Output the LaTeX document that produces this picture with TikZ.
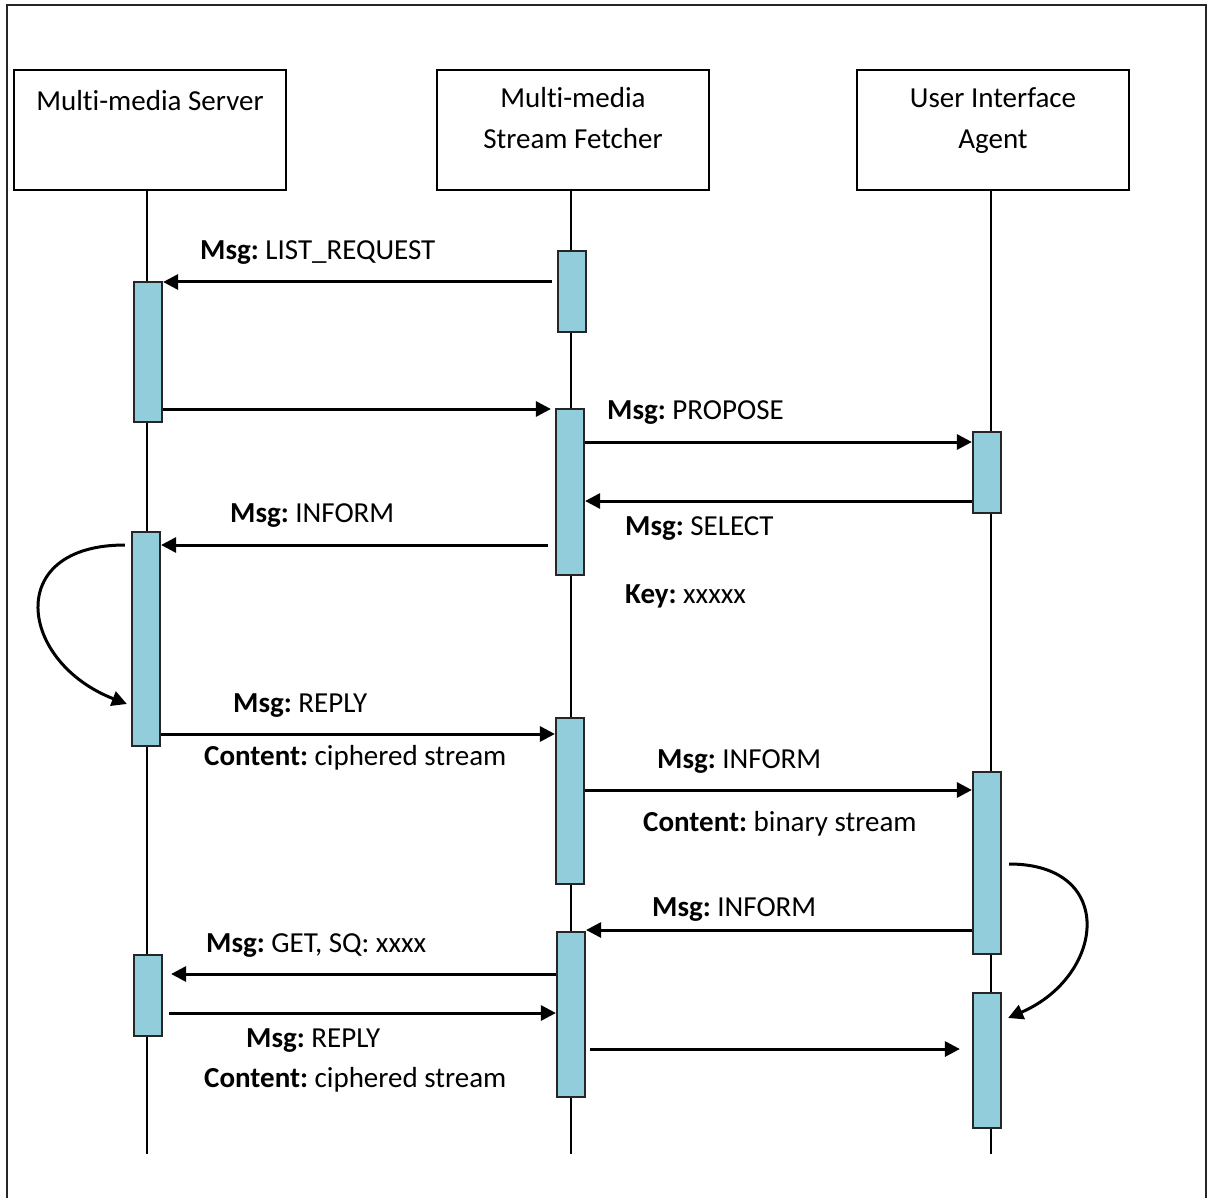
\documentclass[tikz,border=0pt]{standalone}
\usepackage{fontspec}
\setmainfont{Carlito}[Ligatures=NoCommon]
\usetikzlibrary{arrows.meta}
\definecolor{barblue}{HTML}{92CDDC}
\frenchspacing
\begin{document}
\begin{tikzpicture}[x=1pt,y=-1pt,
  font=\fontsize{29pt}{41pt}\selectfont\frenchspacing,
  actor/.style={draw, line width=2.4pt, minimum width=272pt, minimum height=120pt, inner sep=0pt},
  bar/.style={draw=black!85, fill=barblue, line width=2.2pt, minimum width=28pt, inner sep=0pt},
  life/.style={line width=1.8pt},
  msg/.style={line width=3pt, -{Triangle[length=15pt,width=15pt]}},
  lbl/.style={anchor=base west, inner sep=0pt},
  ttl/.style={anchor=base, inner sep=0pt}]
\useasboundingbox (0,0) rectangle (1207,1198);
% frame
\draw[line width=2.4pt, black!85] (7,1198) -- (7,5) -- (1206,5) -- (1206,1198);

% actors
\node[actor] (srv) at (150,130) {};
\node[actor] (fet) at (573,130) {};
\node[actor] (uia) at (993,130) {};
\node[ttl] (srvT) at (150,111) {Multi-media Server};
\node[ttl] (fetT1) at (573,108) {Multi-media};
\node[ttl] (fetT2) at (573,149) {Stream Fetcher};
\node[ttl] (uiaT1) at (993,108) {User Interface};
\node[ttl] (uiaT2) at (993,149) {Agent};

% lifelines
\coordinate (sEnd) at (147,1154);
\coordinate (fEnd) at (571,1154);
\coordinate (uEnd) at (991,1154);
\draw[life] (sEnd |- srv.south) -- (sEnd);
\draw[life] (fEnd |- fet.south) -- (fEnd);
\draw[life] (uEnd |- uia.south) -- (uEnd);

% activation bars
\node[bar, minimum height=140pt] (s1) at (148,352) {};
\node[bar, minimum height=214pt] (s2) at (146,639) {};
\node[bar, minimum height=81pt]  (s3) at (148,995.5) {};
\node[bar, minimum height=81pt]  (f1) at (572,291.5) {};
\node[bar, minimum height=166pt] (f2) at (570,492) {};
\node[bar, minimum height=166pt] (f3) at (570,801) {};
\node[bar, minimum height=165pt] (f4) at (571,1014.5) {};
\node[bar, minimum height=81pt]  (u1) at (987,472.5) {};
\node[bar, minimum height=182pt] (u2) at (987,863) {};
\node[bar, minimum height=135pt] (u3) at (987,1060.5) {};

% messages
\draw[msg] ([xshift=-5pt]f1.west |- 0,282) -- (s1.east |- 0,282);
\draw[msg] (s1.east |- 0,409) -- ([xshift=-4pt]f2.west |- 0,409);
\draw[msg] (f2.east |- 0,442) -- (u1.west |- 0,442);
\draw[msg] (u1.west |- 0,501) -- (f2.east |- 0,501);
\draw[msg] ([xshift=-7pt]f2.west |- 0,545) -- (s2.east |- 0,545);
\draw[msg] ([xshift=-6pt]s2.west |- 0,545) .. controls +(-122,0) and +(-108,-42) .. ([xshift=-4pt]s2.west |- 0,704);
\draw[msg] (s2.east |- 0,734) -- (f3.west |- 0,734);
\draw[msg] (f3.east |- 0,790) -- (u2.west |- 0,790);
\draw[msg] ([xshift=7pt]u2.east |- 0,864) .. controls +(108,0) and +(97,-42) .. ([xshift=6pt]u3.east |- 0,1018);
\draw[msg] (u2.west |- 0,930) -- (f4.east |- 0,930);
\draw[msg] (f4.west |- 0,974) -- ([xshift=8pt]s3.east |- 0,974);
\draw[msg] ([xshift=6pt]s3.east |- 0,1013) -- (f4.west |- 0,1013);
\draw[msg] ([xshift=4pt]f4.east |- 0,1049) -- ([xshift=-12pt]u3.west |- 0,1049);

% labels
\node[lbl] (l1) at (200,260) {\textbf{Msg:} LIST\_REQUEST};
\node[lbl] (l2) at (607,419) {\textbf{Msg:} PROPOSE};
\node[lbl] (l3) at (625,535) {\textbf{Msg:} SELECT};
\node[lbl] (l4) at (625,603) {\textbf{Key:} xxxxx};
\node[lbl] (l5) at (230,522) {\textbf{Msg:} INFORM};
\node[lbl] (l6) at (233,712) {\textbf{Msg:} REPLY};
\node[lbl] (l7) at (204,765) {\textbf{Content:} ciphered stream};
\node[lbl] (l8) at (657,768) {\textbf{Msg:} INFORM};
\node[lbl] (l9) at (643,831) {\textbf{Content:} binary stream};
\node[lbl] (l10) at (652,916) {\textbf{Msg:} INFORM};
\node[lbl] (l11) at (206,952) {\textbf{Msg:} GET, SQ: xxxx};
\node[lbl] (l12) at (246,1047) {\textbf{Msg:} REPLY};
\node[lbl] (l13) at (204,1087) {\textbf{Content:} ciphered stream};
\end{tikzpicture}
\end{document}
